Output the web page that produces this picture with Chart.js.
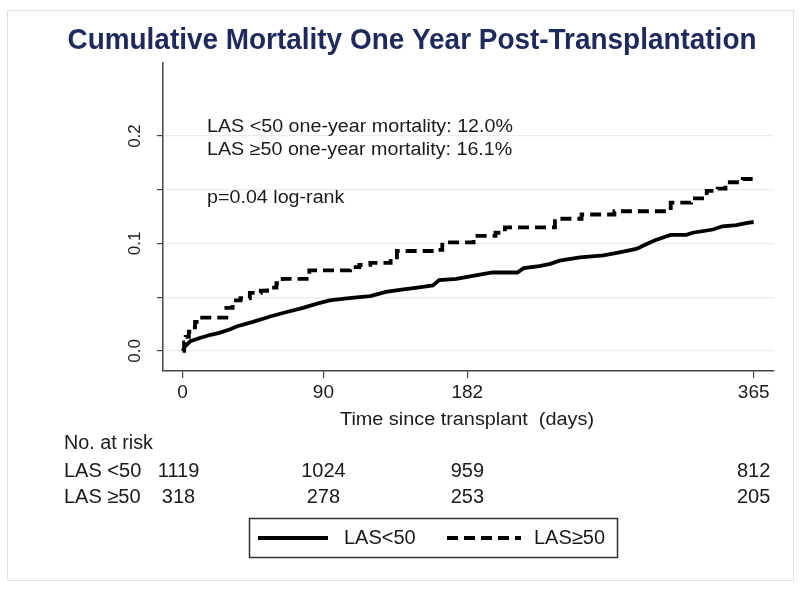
<!DOCTYPE html>
<html><head><meta charset="utf-8">
<script src="https://cdn.jsdelivr.net/npm/chart.js@4.4.1/dist/chart.umd.min.js"></script>
<style>html,body{margin:0;padding:0;background:#fff;}#wrap{position:relative;width:800px;height:590px;}</style>
</head><body><div id="wrap"><canvas id="c" width="800" height="590"></canvas></div>
<script>
const chartTitle = 'Cumulative Mortality One Year Post-Transplantation';
const xAxisTitle = 'Time since transplant  (days)';
const seriesLabels = ['LAS<50', 'LAS\u226550'];
const xTickValues = [0, 90, 182, 365];
const yGridValues = [0, 0.05, 0.1, 0.15, 0.2];
const yTickLabels = ['0.0', '', '0.1', '', '0.2'];
const annotationLines = ['LAS <50 one-year mortality: 12.0%', 'LAS \u226550 one-year mortality: 16.1%', 'p=0.04 log-rank'];
const riskHeader = 'No. at risk';
const riskGroups = ['LAS <50', 'LAS \u226550'];
const riskDays = [0, 90, 182, 365];
const riskLow = [1119, 1024, 959, 812];
const riskHigh = [318, 278, 253, 205];

const lowDays = [0,2,5,11,18,24,30,35,45,56,66,77,86,94,105,113,120,130,140,150,160,164,175,182,190,198,214,218,228,235,241,254,269,280,290,296,302,308,312,322,326,339,345,354,360,365];
const lowMortality = [0,0.005,0.009,0.012,0.015,0.017,0.020,0.023,0.027,0.032,0.036,0.040,0.044,0.047,0.049,0.050,0.051,0.055,0.057,0.059,0.061,0.066,0.067,0.069,0.071,0.073,0.073,0.077,0.079,0.081,0.084,0.087,0.089,0.092,0.095,0.099,0.103,0.106,0.108,0.108,0.110,0.113,0.116,0.117,0.119,0.120];
const highDays = [0,1,2,4,6,8,11,24,28,32,37,43,50,54,60,64,79,81,104,107,113,120,133,137,162,166,183,186,200,206,236,238,252,255,273,276,309,312,322,325,333,335,342,347,358,365];
const highMortality = [0,0.008,0.013,0.018,0.022,0.027,0.031,0.031,0.040,0.047,0.049,0.054,0.056,0.059,0.063,0.067,0.067,0.075,0.075,0.078,0.080,0.082,0.087,0.093,0.094,0.101,0.101,0.107,0.110,0.115,0.115,0.123,0.123,0.127,0.127,0.130,0.130,0.138,0.138,0.142,0.142,0.149,0.151,0.157,0.160,0.161];

const FONT = "'Liberation Sans', Arial, sans-serif";

function drawFit(ctx, text, x, y, size, weight, targetWidth, align, color) {
  ctx.save();
  ctx.font = weight + ' ' + size + 'px ' + FONT;
  ctx.fillStyle = color || '#1a1a1a';
  ctx.textBaseline = 'middle';
  const w = ctx.measureText(text).width;
  const sx = targetWidth ? targetWidth / w : 1;
  let x0 = x;
  if (align === 'center') x0 = x - w * sx / 2;
  else if (align === 'right') x0 = x - w * sx;
  ctx.translate(x0, y);
  ctx.scale(sx, 1);
  ctx.textAlign = 'left';
  ctx.fillText(text, 0, 0);
  ctx.restore();
  return sx;
}

const extras = {
  id: 'extras',
  beforeDraw(chart) {
    const ctx = chart.ctx;
    ctx.save();
    ctx.fillStyle = '#fff';
    ctx.fillRect(0, 0, chart.width, chart.height);
    ctx.strokeStyle = '#e2e2e2';
    ctx.lineWidth = 1;
    ctx.strokeRect(7.5, 10.5, 786, 570);
    ctx.restore();
  },
  afterDraw(chart) {
    const ctx = chart.ctx;
    const xs = chart.scales.x, ys = chart.scales.y;
    drawFit(ctx, chartTitle, 412, 41, 30, 'bold', 689, 'center', '#1e2a5c');
    yGridValues.forEach((v, i) => {
      if (!yTickLabels[i]) return;
      ctx.save();
      ctx.translate(135, ys.getPixelForValue(v));
      ctx.rotate(-Math.PI / 2);
      ctx.font = '17px ' + FONT;
      ctx.fillStyle = '#1a1a1a';
      ctx.textAlign = 'center';
      ctx.textBaseline = 'middle';
      ctx.fillText(yTickLabels[i], 0, 0);
      ctx.restore();
    });
    const sx = drawFit(ctx, annotationLines[0], 207, 127, 18, 'normal', 306, 'left');
    [150, 198].forEach((yy, k) => {
      ctx.save();
      ctx.font = '18px ' + FONT;
      ctx.fillStyle = '#1a1a1a';
      ctx.textBaseline = 'middle';
      ctx.translate(207, yy);
      ctx.scale(sx, 1);
      ctx.fillText(annotationLines[k + 1], 0, 0);
      ctx.restore();
    });
    drawFit(ctx, xAxisTitle, 467, 420, 18, 'normal', 254, 'center');
    drawFit(ctx, riskHeader, 64, 443, 20, 'normal', 89, 'left');
    const rows = [riskLow, riskHigh];
    const rowY = [471, 497];
    riskGroups.forEach((g, r) => {
      drawFit(ctx, g, 64, rowY[r], 20, 'normal', 0, 'left');
      riskDays.forEach((d, j) => {
        const px = xs.getPixelForValue(d) - (j === 0 ? 4 : 0);
        drawFit(ctx, String(rows[r][j]), px, rowY[r], 20, 'normal', 0, 'center');
      });
    });
    ctx.save();
    ctx.strokeStyle = '#333';
    ctx.lineWidth = 1.5;
    ctx.strokeRect(249.5, 518.5, 368, 39);
    const ds = chart.data.datasets;
    const samples = [[258, 328, 344], [447, 521, 534]];
    ds.forEach((d, i) => {
      ctx.beginPath();
      ctx.setLineDash(d.borderDash || []);
      ctx.lineWidth = d.borderWidth;
      ctx.strokeStyle = d.borderColor;
      ctx.moveTo(samples[i][0], 538);
      ctx.lineTo(samples[i][1], 538);
      ctx.stroke();
      ctx.setLineDash([]);
      drawFit(ctx, d.label, samples[i][2], 538, 20, 'normal', 0, 'left');
    });
    ctx.restore();
  }
};

const ctx = document.getElementById('c').getContext('2d');
new Chart(ctx, {
  type: 'line',
  data: {
    datasets: [
      { label: seriesLabels[0], data: lowDays.map((d, i) => ({ x: d, y: lowMortality[i] })),
        borderColor: '#000', borderWidth: 3.8, stepped: false, tension: 0, pointRadius: 0, fill: false },
      { label: seriesLabels[1], data: highDays.map((d, i) => ({ x: d, y: highMortality[i] })),
        borderColor: '#000', borderWidth: 3.8, borderDash: [11, 6], stepped: true, pointRadius: 0, fill: false }
    ]
  },
  options: {
    responsive: false, animation: false, devicePixelRatio: 1,
    layout: { padding: { left: 0, top: 63, right: 26, bottom: 0 } },
    plugins: { legend: { display: false }, title: { display: false }, tooltip: { enabled: false } },
    scales: {
      x: {
        type: 'linear', min: -12.5, max: 378,
        afterBuildTicks: s => { s.ticks = xTickValues.map(v => ({ value: v })); },
        afterFit: s => { s.height = 590 - 371; },
        grid: { drawOnChartArea: false, drawTicks: true, tickLength: 7, tickColor: '#444', lineWidth: 1.2 },
        border: { color: '#444', width: 1.5 },
        ticks: { font: { family: FONT, size: 19 }, color: '#1a1a1a', padding: 3, maxRotation: 0, autoSkip: false,
                 callback: v => String(v) }
      },
      y: {
        type: 'linear', min: -0.0187, max: 0.268,
        afterBuildTicks: s => { s.ticks = yGridValues.map(v => ({ value: v })); },
        afterFit: s => { s.width = 163; },
        grid: { color: '#ebebeb', lineWidth: 1.2, tickColor: '#444', tickLength: 6, drawTicks: true },
        border: { color: '#444', width: 1.5 },
        ticks: { display: false }
      }
    }
  },
  plugins: [extras]
});
</script></body></html>
